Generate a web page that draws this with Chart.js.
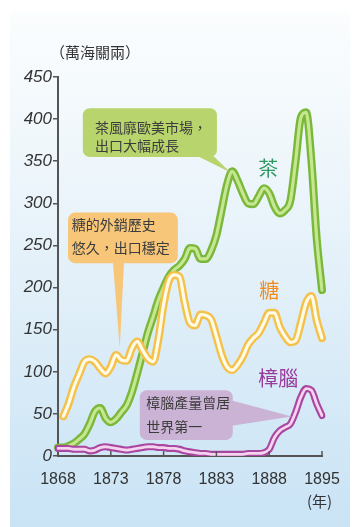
<!DOCTYPE html>
<html>
<head>
<meta charset="utf-8">
<script src="https://cdn.jsdelivr.net/npm/chart.js@4.4.1/dist/chart.umd.min.js"></script>
<style>
  html, body { margin: 0; padding: 0; background: #fff; }
  #wrap { width: 352px; height: 527px; position: relative; }
</style>
</head>
<body>
<div id="wrap"><canvas id="graph"></canvas></div>
<script>
// half-year slots 1868 -> 1888, then 1888 -> 1895 squeezed into the last 10 slots (as in the print)
const yearTicks = ['1868', '1873', '1878', '1883', '1888', '1895'];

// 萬海關兩
const tea = [10, 10, 12, 15, 20, 26, 38, 53, 57, 45,
  40, 44, 52, 60, 76, 98, 122, 146, 165, 185,
  200, 213, 221, 226, 234, 247, 246, 234, 234, 244,
  262, 292, 322, 338, 327, 312, 300, 299, 308, 318,
  312, 296, 288, 292, 303, 350, 402, 408, 350, 258, 197];

const sugar = [null, 47, 62, 82, 97, 112, 115, 112, 104, 98,
  106, 120, 114, 113, 128, 136, 126, 116, 112, 138,
  180, 208, 215, 213, 182, 158, 155, 168, 167, 162,
  142, 120, 106, 102, 108, 118, 132, 140, 146, 158,
  170, 170, 153, 142, 135, 137, 158, 182, 190, 161, 140];

const camphor = [9, 9, 9, 8, 8, 8, 6, 7, 10, 11,
  10, 9, 8, 7, 8, 9, 10, 11, 11, 10,
  10, 9, 9, 8, 6, 5, 4, 3, 3, 2,
  2, 2, 2, 2, 2, 2, 3, 3, 3, 4,
  8, 22, 30, 34, 38, 52, 70, 80, 78, 62, 48];

const slots = tea.map((v, i) => String(i));

const cjk = '"Noto Sans CJK TC", "Noto Sans CJK SC", sans-serif';
const num = '"Liberation Sans", Arial, sans-serif';

// callouts, placed in chart units (slot, value)
const notes = [
  { box: [4.7, 413, 30.1, 355], fill: '#b8d46c',
    tip: [[26.5, 356], [29.5, 356], [32.6, 337]],
    lines: ['茶風靡歐美市場，', '出口大幅成長'], at: [7.0, 390, 369] },
  { box: [1.9, 289, 22.7, 229], fill: '#f7c678',
    tip: [[10.4, 230], [12.5, 230], [11.7, 128]],
    lines: ['糖的外銷歷史', '悠久，出口穩定'], at: [2.6, 275, 247] },
  { box: [15.5, 78, 33.1, 19], fill: '#cbb3d6',
    tip: [[32.9, 66], [32.9, 36], [44.3, 47]],
    lines: ['樟腦產量曾居', '世界第一'], at: [16.7, 63, 35] }
];

const seriesNames = [
  { text: '茶', color: '#2f9963', at: [39.8, 342] },
  { text: '糖', color: '#f08c1e', at: [40.0, 197] },
  { text: '樟腦', color: '#9a3a9c', at: [41.7, 92] }
];

const backdrop = {
  id: 'backdrop',
  beforeDraw(chart) {
    const c = chart.ctx;
    c.save();
    c.fillStyle = '#fff';
    c.fillRect(0, 0, chart.width, chart.height);
    const g = c.createLinearGradient(0, 12, 0, chart.height);
    g.addColorStop(0, '#fbfdfe');
    g.addColorStop(0.3, '#eef6fb');
    g.addColorStop(1, '#c9e3f5');
    c.fillStyle = g;
    c.fillRect(10, 12, chart.width - 12, chart.height - 12);
    c.restore();
  }
};

const extras = {
  id: 'extras',
  afterDraw(chart) {
    const c = chart.ctx;
    const xs = chart.scales.x, ys = chart.scales.y;
    const px = v => xs.getPixelForValue(v);
    const py = v => ys.getPixelForValue(v);
    c.save();

    // x ticks pointing up into the plot
    c.strokeStyle = '#555';
    c.lineWidth = 1.5;
    for (let i = 10; i < slots.length; i += 10) {
      const x = px(i);
      c.beginPath();
      c.moveTo(x, ys.bottom);
      c.lineTo(x, ys.bottom - 5);
      c.stroke();
    }

    notes.forEach(n => {
      const [x0, y0, x1, y1] = n.box;
      c.fillStyle = n.fill;
      c.beginPath();
      c.roundRect(px(x0), py(y0), px(x1) - px(x0), py(y1) - py(y0), 7);
      c.fill();
      c.beginPath();
      c.moveTo(px(n.tip[0][0]), py(n.tip[0][1]));
      c.lineTo(px(n.tip[2][0]), py(n.tip[2][1]));
      c.lineTo(px(n.tip[1][0]), py(n.tip[1][1]));
      c.closePath();
      c.fill();
      c.fillStyle = '#3c3c3c';
      c.font = '14px ' + cjk;
      c.textBaseline = 'middle';
      c.textAlign = 'left';
      c.fillText(n.lines[0], px(n.at[0]), py(n.at[1]));
      c.fillText(n.lines[1], px(n.at[0]), py(n.at[2]));
    });

    c.font = '20px ' + cjk;
    c.textAlign = 'center';
    c.textBaseline = 'middle';
    seriesNames.forEach(s => {
      c.fillStyle = s.color;
      c.fillText(s.text, px(s.at[0]), py(s.at[1]));
    });

    c.fillStyle = '#333';
    c.font = '15px ' + cjk;
    c.textAlign = 'left';
    c.fillText('（萬海關兩）', 50, 52);
    c.fillText('(年)', 307, 501);
    c.restore();
  }
};

function tube(data, outer, inner, w, order) {
  return [
    { data, borderColor: outer, borderWidth: w, order: order + 1 },
    { data, borderColor: inner, borderWidth: w * 0.4, order: order }
  ];
}

const datasets = [
  ...tube(camphor, '#a9469f', '#f6d4f0', 7, 1),
  ...tube(sugar, '#f4c14a', '#fffbe6', 8, 3),
  ...tube(tea, '#7ab83b', '#c6e68f', 8, 5)
].map(d => Object.assign(d, {
  pointRadius: 0,
  cubicInterpolationMode: 'monotone',
  borderCapStyle: 'round',
  borderJoinStyle: 'round',
  spanGaps: false
}));

new Chart(document.getElementById('graph'), {
  type: 'line',
  data: { labels: slots, datasets },
  options: {
    responsive: true,
    maintainAspectRatio: false,
    animation: false,
    layout: { padding: { top: 77, right: 30, left: 0, bottom: 0 } },
    plugins: { legend: { display: false }, tooltip: { enabled: false } },
    scales: {
      x: {
        offset: false,
        grid: { display: false },
        border: { color: '#555', width: 2 },
        ticks: {
          autoSkip: false,
          maxRotation: 0,
          padding: 6,
          color: '#333',
          font: { family: num, size: 16 },
          callback: (v, i) => (i % 10 === 0 ? yearTicks[i / 10] : '')
        },
        afterFit: s => { s.height = 71; }
      },
      y: {
        min: 0,
        max: 450,
        grid: { drawOnChartArea: false, tickLength: 5, color: '#555', lineWidth: 1.5 },
        border: { color: '#555', width: 2 },
        ticks: {
          stepSize: 50,
          padding: 1,
          color: '#333',
          font: { family: num, size: 17, style: 'italic' }
        },
        afterFit: s => { s.width = 58; }
      }
    }
  },
  plugins: [backdrop, extras]
});
</script>
</body>
</html>
